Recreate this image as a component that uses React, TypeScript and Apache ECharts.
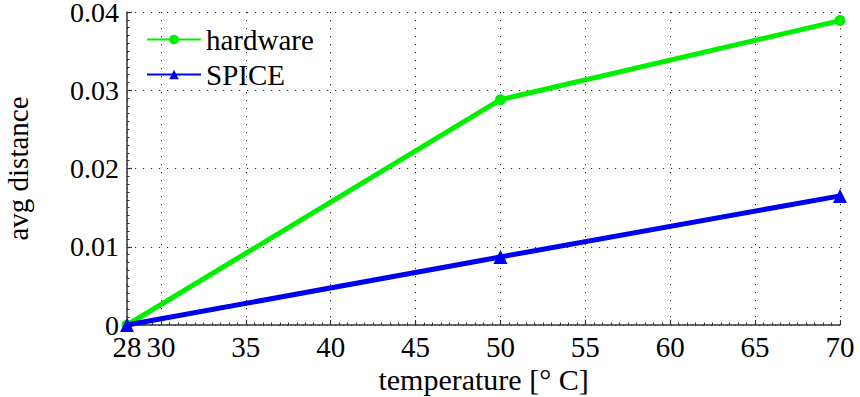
import React, { useEffect, useRef } from "react";
import * as echarts from "echarts";

// Temperature sweep points (°C)
const temperatures = [28, 50, 70];
// Average distance measured on hardware vs. simulated in SPICE
const hardwareValues = [0, 0.0288, 0.0389];
const spiceValues = [0, 0.0087, 0.0165];
// Labelled ticks on the temperature axis
const xTickValues = [28, 30, 35, 40, 45, 50, 55, 60, 65, 70];

const FONT = "Times New Roman, Liberation Serif, serif";
const AXIS_COLOR = "#333";
const GRID_DOT = { color: "#222", width: 1, type: [1.2, 6.8] as number[] };

export default function App() {
  const ref = useRef<HTMLDivElement>(null);

  useEffect(() => {
    if (!ref.current) return;
    const chart = echarts.init(ref.current, undefined, { renderer: "svg" });
    const toPairs = (vals: number[]) => temperatures.map((t, i) => [t, vals[i]]);

    chart.setOption({
      animation: false,
      backgroundColor: "#fff",
      textStyle: { fontFamily: FONT },
      grid: {
        left: 127,
        right: 20,
        top: 12,
        bottom: 72,
        containLabel: false,
        outerBoundsMode: "none",
      },
      legend: {
        orient: "vertical",
        left: 146,
        top: 25,
        padding: 0,
        itemWidth: 54,
        itemHeight: 12,
        itemGap: 6,
        textStyle: { fontFamily: FONT, fontSize: 29, color: "#000", lineHeight: 29 },
        data: ["hardware", "SPICE"],
      },
      xAxis: [
        {
          type: "value",
          min: 28,
          max: 70,
          name: "temperature [° C]",
          nameLocation: "middle",
          nameGap: 39,
          nameMoveOverlap: false,
          nameTextStyle: { fontFamily: FONT, fontSize: 30, color: "#000" },
          axisLine: { show: true, onZero: false, lineStyle: { color: AXIS_COLOR, width: 1.5 } },
          axisTick: {
            show: true,
            inside: true,
            length: 5,
            customValues: xTickValues,
            lineStyle: { color: AXIS_COLOR, width: 1.2 },
          },
          axisLabel: {
            customValues: xTickValues,
            margin: 10,
            fontFamily: FONT,
            fontSize: 29,
            lineHeight: 24,
            color: "#000",
            showMinLabel: true,
            showMaxLabel: true,
          },
          splitLine: { show: true, lineStyle: GRID_DOT },
        },
        {
          // Minor ticks every half degree
          type: "value",
          min: 28,
          max: 70,
          interval: 0.5,
          position: "bottom",
          axisLine: { show: false },
          axisTick: { show: true, inside: true, length: 2.5, lineStyle: { color: AXIS_COLOR, width: 1 } },
          axisLabel: { show: false },
          splitLine: { show: false },
        },
      ],
      yAxis: {
        type: "value",
        min: 0,
        max: 0.04,
        interval: 0.01,
        name: "avg distance",
        nameLocation: "middle",
        nameGap: 95,
        nameMoveOverlap: false,
        nameTextStyle: { fontFamily: FONT, fontSize: 29, color: "#000" },
        axisLine: { show: true, lineStyle: { color: AXIS_COLOR, width: 1.5 } },
        axisTick: { show: true, inside: true, length: 5, lineStyle: { color: AXIS_COLOR, width: 1.2 } },
        minorTick: { show: true, splitNumber: 10, length: 2.5, lineStyle: { color: AXIS_COLOR, width: 1 } },
        axisLabel: {
          margin: 8,
          fontFamily: FONT,
          fontSize: 28,
          lineHeight: 16,
          padding: [4, 0, 0, 0],
          color: "#000",
          formatter: (v: number) => (v === 0 ? "0" : String(Number(v.toFixed(2)))),
        },
        splitLine: { show: true, lineStyle: GRID_DOT },
      },
      series: [
        {
          name: "hardware",
          type: "line",
          xAxisIndex: 0,
          data: toPairs(hardwareValues),
          symbol: "circle",
          symbolSize: 11,
          showAllSymbol: true,
          lineStyle: { color: "#00f000", width: 5 },
          itemStyle: { color: "#00f000" },
          z: 3,
        },
        {
          name: "SPICE",
          type: "line",
          xAxisIndex: 0,
          data: toPairs(spiceValues),
          symbol: "triangle",
          symbolSize: 14,
          showAllSymbol: true,
          lineStyle: { color: "#0000f0", width: 5 },
          itemStyle: { color: "#0000f0" },
          z: 4,
        },
      ],
    });

    return () => chart.dispose();
  }, []);

  return <div ref={ref} style={{ width: 860, height: 397, position: "absolute", left: 0, top: 0 }} />;
}
